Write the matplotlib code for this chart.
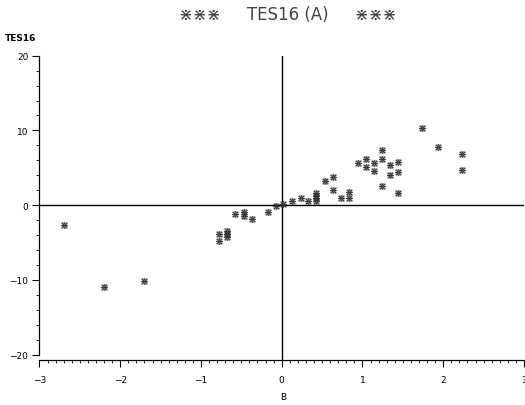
import matplotlib
matplotlib.use("Agg")
import matplotlib.pyplot as plt
from matplotlib.ticker import MultipleLocator

# Values (B on x, TES16 on y)
b_values = [-2.70, -2.20, -1.70, -0.78, -0.78, -0.68, -0.68, -0.68, -0.58, -0.47, -0.47,
            -0.37, -0.17, -0.07, 0.02, 0.13, 0.24, 0.33, 0.43, 0.43, 0.43, 0.43,
            0.54, 0.64, 0.64, 0.73, 0.83, 0.83, 0.94, 1.04, 1.04, 1.14, 1.14,
            1.24, 1.24, 1.24, 1.34, 1.34, 1.44, 1.44, 1.44, 1.74, 1.94, 2.23, 2.23]
tes16_values = [-2.7, -11.0, -10.2, -3.9, -4.8, -3.5, -3.9, -4.3, -1.2, -0.97, -1.43,
                -1.87, -0.9, -0.17, 0.13, 0.57, 0.93, 0.49, 0.5, 0.9, 1.2, 1.6,
                3.2, 3.73, 2.0, 0.89, 1.77, 0.97, 5.6, 6.13, 5.16, 5.69, 4.57,
                7.33, 6.13, 2.57, 5.43, 4.09, 5.77, 4.4, 1.6, 10.36, 7.83, 6.89, 4.67]

x_ticks = [-3, -2, -1, 0, 1, 2, 3]
y_ticks = [-20, -10, 0, 10, 20]

fig = plt.figure(figsize=(5.25, 4.06), dpi=100)
ax = fig.add_axes([0.0752, 0.1108, 0.9228, 0.7495])

ax.scatter(b_values, tes16_values, marker="$\u22c7$", s=22, c="#333333", linewidths=0.3, zorder=3)

# Reference lines through the origin
ax.axhline(0, color="black", lw=1.0, zorder=2)
ax.axvline(0, color="black", lw=1.0, zorder=2)

ax.set_xlim(-3, 3)
ax.set_ylim(-20.73, 20)
ax.set_xticks(x_ticks)
ax.set_yticks(y_ticks)
ax.xaxis.set_minor_locator(MultipleLocator(0.1))
ax.yaxis.set_minor_locator(MultipleLocator(2))

for side in ["top", "right"]:
    ax.spines[side].set_visible(False)
ax.spines["left"].set_bounds(-20, 20)
ax.spines["left"].set_linewidth(0.9)
ax.spines["bottom"].set_linewidth(0.9)

ax.tick_params(which="major", direction="out", length=5, width=0.8, labelsize=6.5, pad=3)
ax.tick_params(which="minor", direction="out", length=2.5, width=0.6)
ax.tick_params(axis="x", which="major", pad=6)

fig.text(0.548, 0.963, "\u22c7\u22c7\u22c7     TES16 (A)     \u22c7\u22c7\u22c7", ha="center", va="center",
         fontsize=12, color="#444444")
fig.text(0.01, 0.905, "TES16", fontsize=6.5, fontweight="bold", ha="left", va="center")
fig.text(0.539, 0.02, "B", fontsize=6.5, ha="center", va="center")

fig.savefig("out.png", dpi=100)
